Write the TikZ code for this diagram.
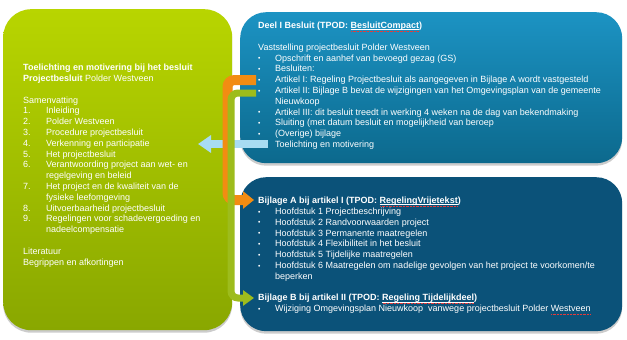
\documentclass[tikz,border=0pt]{standalone}
\usepackage{fontspec}
\setmainfont{Liberation Sans}
\usetikzlibrary{arrows.meta,positioning,shadows}
\definecolor{LimeTop}{HTML}{B8D500}
\definecolor{LimeBottom}{HTML}{89A700}
\definecolor{PetrolTop}{HTML}{1C93C3}
\definecolor{PetrolBottom}{HTML}{0C698D}
\definecolor{DeepBlue}{HTML}{0B5279}
\definecolor{ArrowOrange}{HTML}{F28C12}
\definecolor{ArrowGreen}{HTML}{9DBC1C}
\definecolor{ArrowSky}{HTML}{A8DCF2}
\definecolor{SpellRed}{HTML}{E23B3B}
\newsavebox{\tpodbox}
\newcommand{\squig}[1]{\sbox{\tpodbox}{#1}%
  \rlap{\raisebox{-2.6pt}{\textcolor{SpellRed}{\xleaders\hbox to 1.4pt{\hss\rule{0.7pt}{0.5pt}\hss}\hskip\wd\tpodbox}}}%
  \usebox{\tpodbox}}
\newcommand{\tpod}[1]{\sbox{\tpodbox}{#1}%
  \rlap{\rule[-1.2pt]{\wd\tpodbox}{0.45pt}}\squig{#1}}
\newcommand{\itemnr}[1]{\makebox[23pt][l]{#1}}
\newcommand{\bul}{\makebox[17pt][l]{\raisebox{0.4pt}{\scalebox{0.75}{\textbullet}}}}

\begin{document}
\begin{tikzpicture}[x=1pt,y=-1pt,
    box/.style={rounded corners=26pt, minimum width=382pt, anchor=north west,
      drop shadow={shadow xshift=0pt, shadow yshift=-2.5pt, fill=black, opacity=0.2}},
    boxtext/.style={anchor=north west, inner sep=0pt, align=left, text=white,
      font=\fontsize{9}{10.8}\selectfont},
    link/.style={rounded corners=7pt}
  ]
  \useasboundingbox[fill=white] (0,0) rectangle (627,340);

  \node[box, minimum width=229pt, minimum height=321pt, rounded corners=28pt,
    top color=LimeTop, bottom color=LimeBottom] (toel) at (3,9) {};
  \node[box, minimum height=151pt, top color=PetrolTop, bottom color=PetrolBottom] (deel) at (240,12) {};
  \node[box, minimum height=154pt, fill=DeepBlue] (bijl) at (240,177) {};

  \node[boxtext] (toeltext) at ([shift={(20,55)}]toel.north west) {%
    \textbf{Toelichting en motivering bij het besluit}\\
    \textbf{Projectbesluit} Polder Westveen\\
    \mbox{}\\
    Samenvatting\\
    \itemnr{1.}Inleiding\\
    \itemnr{2.}Polder Westveen\\
    \itemnr{3.}Procedure projectbesluit\\
    \itemnr{4.}Verkenning en participatie\\
    \itemnr{5.}Het projectbesluit\\
    \itemnr{6.}Verantwoording project aan wet- en\\
    \itemnr{}regelgeving en beleid\\
    \itemnr{7.}Het project en de kwaliteit van de\\
    \itemnr{}fysieke leefomgeving\\
    \itemnr{8.}Uitvoerbaarheid projectbesluit\\
    \itemnr{9.}Regelingen voor schadevergoeding en\\
    \itemnr{}nadeelcompensatie\\
    \mbox{}\\
    Literatuur\\
    Begrippen en afkortingen};

  \node[boxtext] (deeltext) at ([shift={(18,10)}]deel.north west) {%
    \textbf{Deel I Besluit (TPOD: \tpod{BesluitCompact})}\\
    \mbox{}\\
    Vaststelling projectbesluit Polder Westveen\\
    \bul Opschrift en aanhef van bevoegd gezag (GS)\\
    \bul Besluiten:\\
    \bul Artikel I: Regeling Projectbesluit als aangegeven in Bijlage A wordt vastgesteld\\
    \bul Artikel II: Bijlage B bevat de wijzigingen van het Omgevingsplan van de gemeente\\
    \hspace*{17pt}Nieuwkoop\\
    \bul Artikel III: dit besluit treedt in werking 4 weken na de dag van bekendmaking\\
    \bul Sluiting (met datum besluit en mogelijkheid van beroep\\
    \bul (Overige) bijlage\\
    \hspace*{17pt}Toelichting en motivering};

  \node[boxtext] (bijltext) at ([shift={(18,20)}]bijl.north west) {%
    \textbf{Bijlage A bij artikel I (TPOD: \tpod{RegelingVrijetekst})}\\
    \bul Hoofdstuk 1 Projectbeschrijving\\
    \bul Hoofdstuk 2 Randvoorwaarden project\\
    \bul Hoofdstuk 3 Permanente maatregelen\\
    \bul Hoofdstuk 4 Flexibiliteit in het besluit\\
    \bul Hoofdstuk 5 Tijdelijke maatregelen\\
    \bul Hoofdstuk 6 Maatregelen om nadelige gevolgen van het project te voorkomen/te\\
    \hspace*{17pt}beperken\\
    \mbox{}\\
    \textbf{Bijlage B bij artikel II (TPOD: \tpod{Regeling Tijdelijkdeel})}\\
    \bul Wijziging Omgevingsplan Nieuwkoop\ \ vanwege projectbesluit Polder \squig{Westveen}};

  \coordinate (artI) at (256,80);
  \coordinate (artII) at (256,93);
  \coordinate (bijA) at (254,200);
  \coordinate (bijB) at (254,298);
  \coordinate (toelEnd) at (268,144);
  \coordinate (toelTip) at (198,144);

  \draw[ArrowSky, line width=8pt, -{Triangle[length=13pt,width=17pt]}] (toelEnd) -- (toelTip);
  \draw[link, ArrowOrange, line width=10pt, -{Triangle[length=11pt,width=17pt]}]
    (artI) -- ++(-28.5,0) |- (bijA);
  \draw[link, ArrowGreen, line width=7pt, -{Triangle[length=11pt,width=15pt]}]
    (artII) -- ++(-25,0) |- (bijB);
\end{tikzpicture}
\end{document}
